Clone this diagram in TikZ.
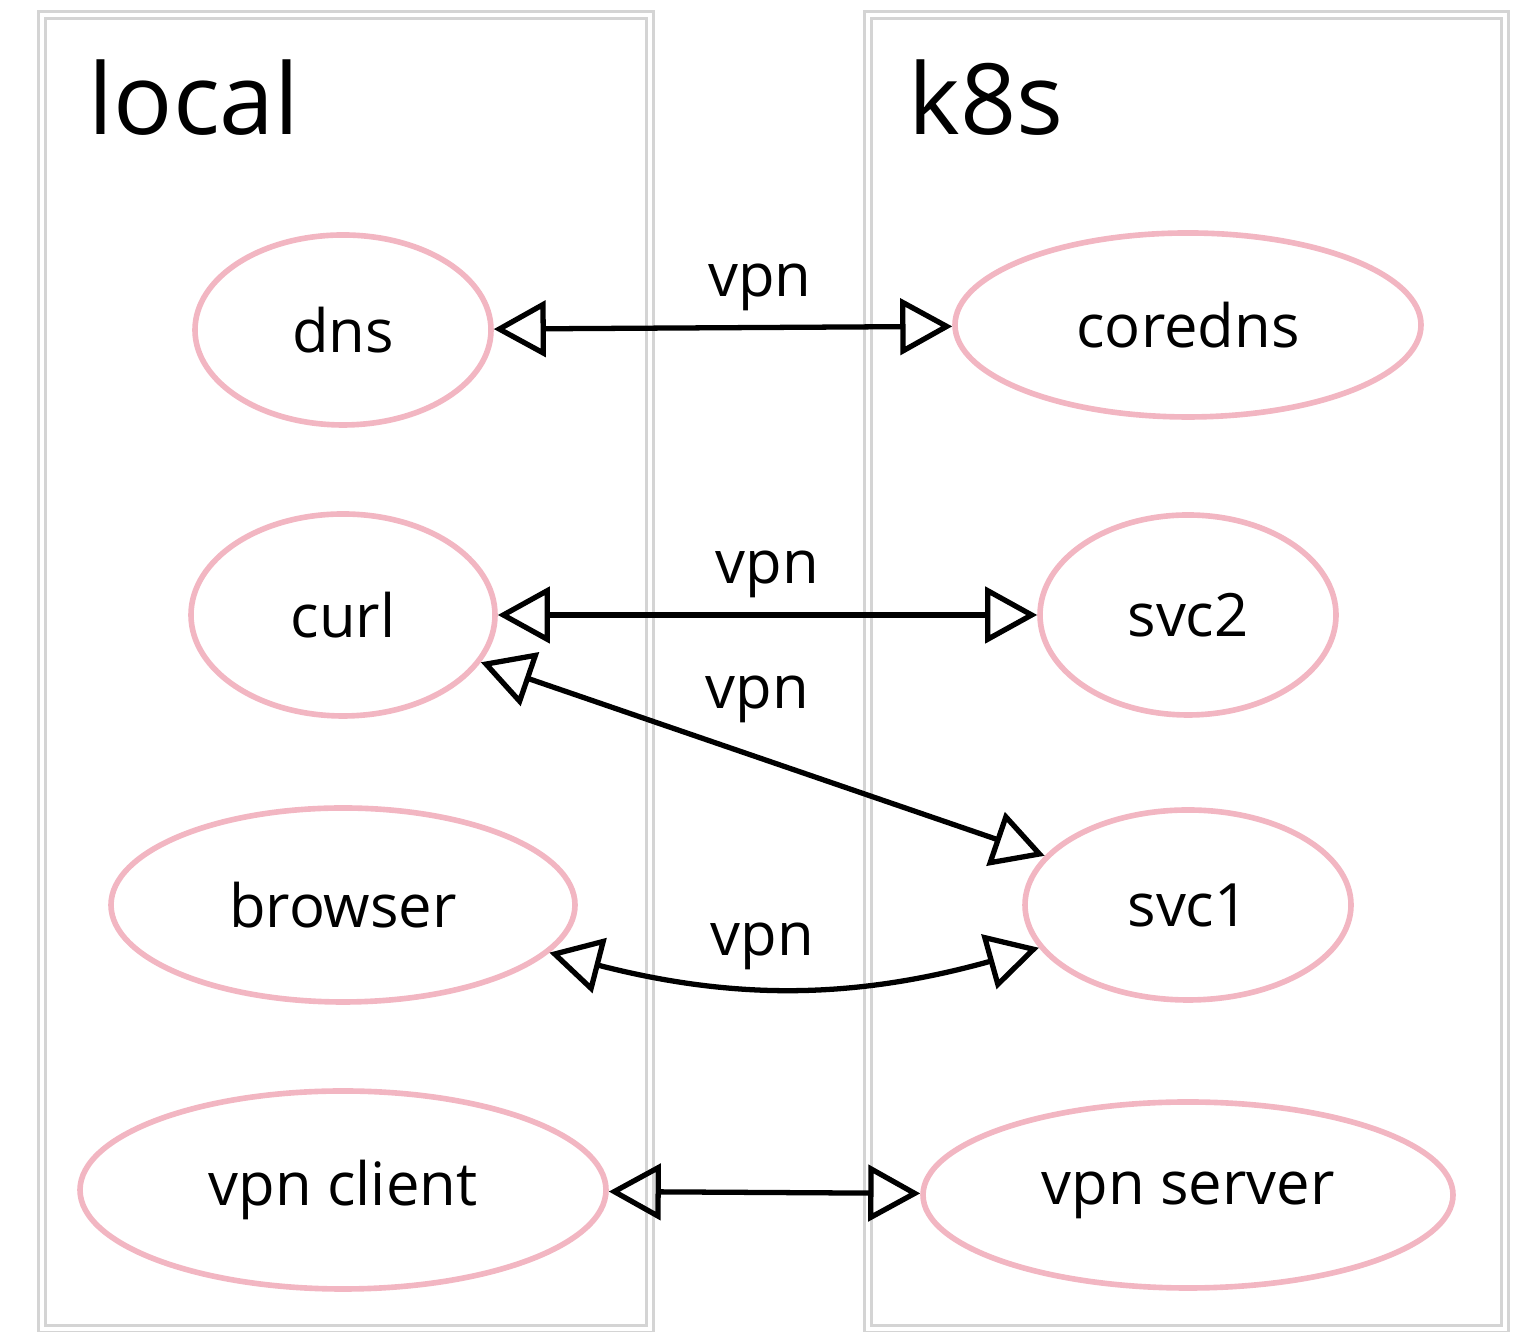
\documentclass[tikz,border=0pt]{standalone}
\usepackage{fontspec}
\setmainfont{Open Sans}
\usepackage{tikz}
\usetikzlibrary{shapes,arrows.meta,positioning}

\definecolor{sketchpink}{RGB}{242,182,194}
\definecolor{framegray}{RGB}{212,212,212}

\begin{document}
\begin{tikzpicture}
				\tikzstyle{Frame}	= [draw=framegray, line width=.7pt, double=white, double distance=1.4pt]
				\tikzstyle{Title}	= [anchor=base west, inner sep=0pt, font=\fontsize{28}{32}\selectfont]
				\tikzstyle{Service}	= [ellipse, draw=sketchpink, line width=1.6pt, inner sep=0pt, font=\fontsize{17}{20}\selectfont]
				\tikzstyle{Link}	= [{Triangle[open,length=5.2mm,width=5.6mm]}-{Triangle[open,length=5.2mm,width=5.6mm]}, line width=1.5pt, black]
				\tikzstyle{Label}	= [above, inner sep=4pt, font=\fontsize{17}{20}\selectfont]

				\useasboundingbox (0,0) rectangle (15.25,13.32);

				% the two sides
				\draw [Frame] (0.42,0.03) rectangle (6.50,13.17);
				\draw [Frame] (8.68,0.03) rectangle (15.05,13.17);
				\node (local) at (0.88,11.97) [Title] {local};
				\node (k8s) at (9.08,11.97) [Title] {k8s};

				\node (dns) at (3.43,10.02) [Service, minimum width=2.96cm, minimum height=1.90cm] {dns};
				\node (curl) at (3.43,7.17) [Service, minimum width=3.04cm, minimum height=2.02cm] {curl};
				\node (browser) at (3.43,4.27) [Service, minimum width=4.64cm, minimum height=1.94cm] {browser};
				\node (vpnclient) at (3.43,1.42) [Service, minimum width=5.26cm, minimum height=1.98cm] {vpn client};

				\node (coredns) at (11.88,10.07) [Service, minimum width=4.66cm, minimum height=1.84cm] {coredns};
				\node (svc2) at (11.88,7.17) [Service, minimum width=2.96cm, minimum height=2.00cm] {svc2};
				\node (svc1) at (11.88,4.27) [Service, minimum width=3.26cm, minimum height=1.90cm] {svc1};
				\node (vpnserver) at (11.88,1.37) [Service, minimum width=5.30cm, minimum height=1.86cm] {vpn server};

				\draw [Link] (dns) to node[Label, pos=.58] {vpn} (coredns);
				\draw [Link] (curl) to node[Label, pos=.50] {vpn} (svc2);
				\draw [Link] (curl) to node[Label, pos=.49, above=5pt] {vpn} (svc1);
				\draw [Link] (browser.-13) to [bend right=15] node[Label, pos=.43] {vpn} (svc1.-164);
				\draw [Link] (vpnclient) to (vpnserver);
			\end{tikzpicture}
\end{document}
